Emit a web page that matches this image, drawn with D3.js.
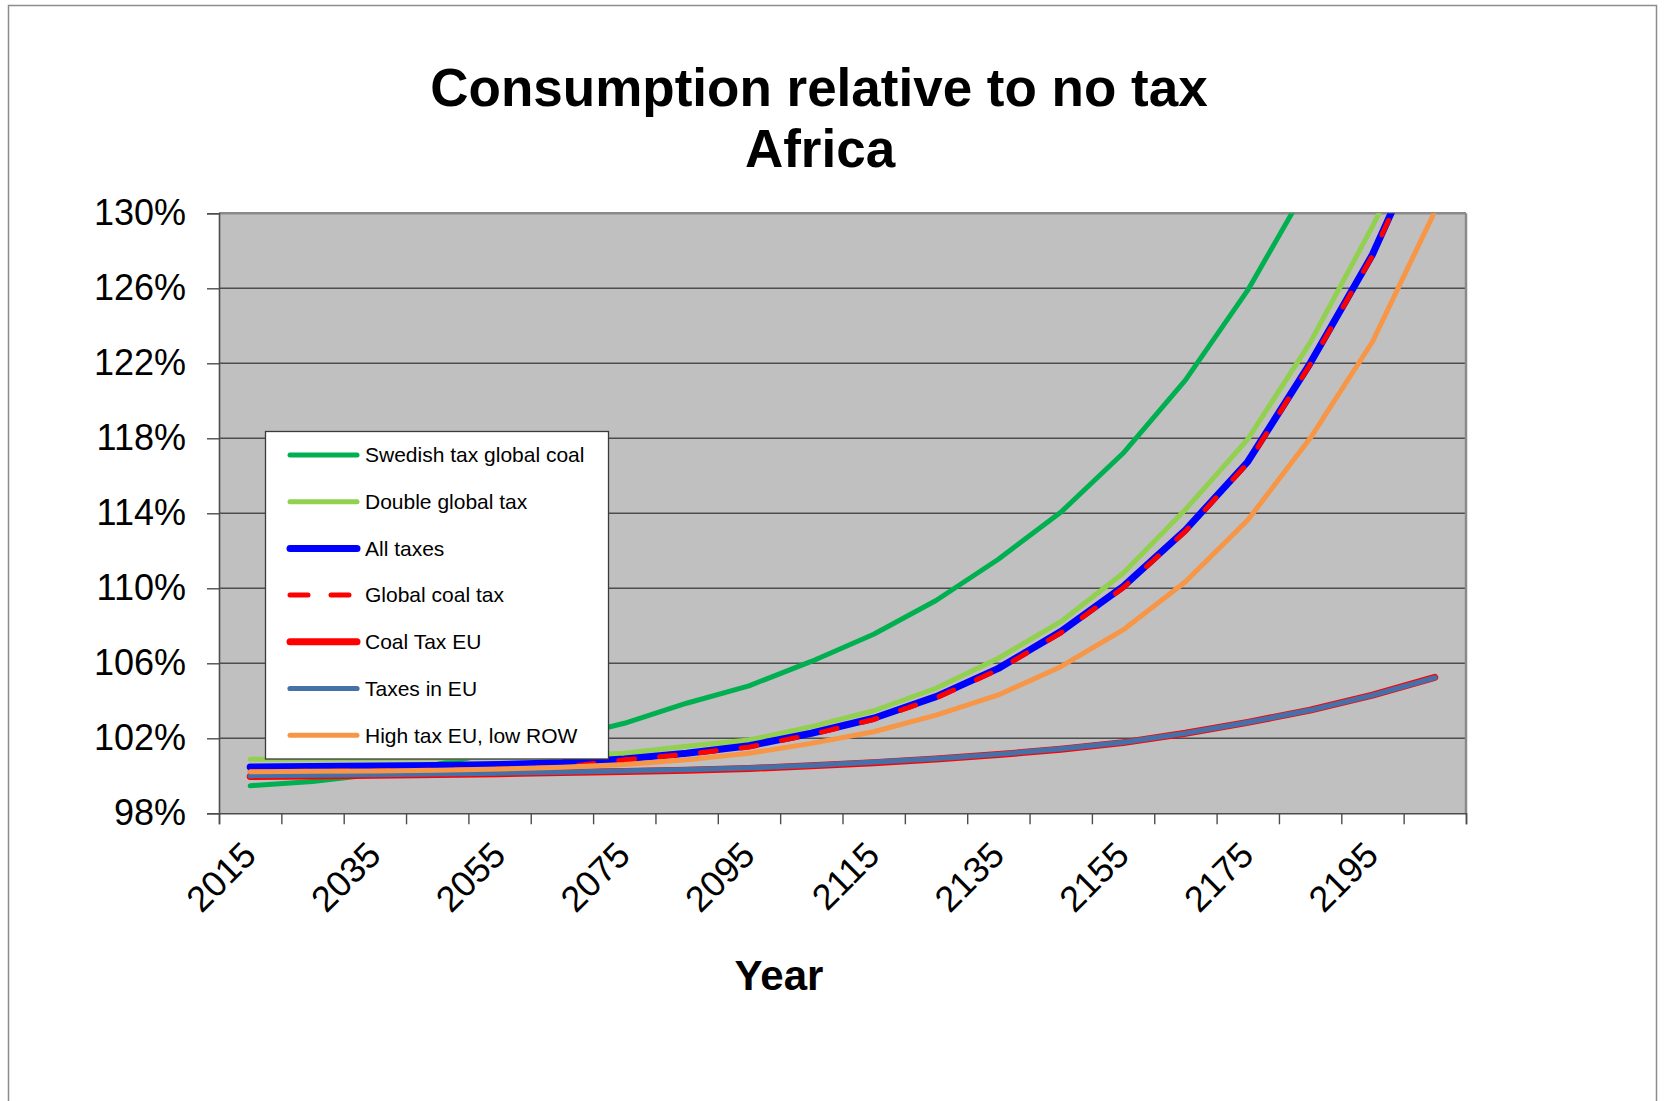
<!DOCTYPE html>
<html>
<head>
<meta charset="utf-8">
<script src="https://cdn.jsdelivr.net/npm/d3@7"></script>
<style>
  body { margin: 0; background: #ffffff; }
  svg text { font-family: "Liberation Sans", Arial, sans-serif; fill: #000; }
</style>
</head>
<body>
<div id="chart"></div>
<script>
// data (percent of no-tax consumption)
var years = [2015, 2025, 2035, 2045, 2055, 2065, 2075, 2085, 2095, 2105,
             2115, 2125, 2135, 2145, 2155, 2165, 2175, 2185, 2195, 2205];
var xLabelYears = [2015, 2035, 2055, 2075, 2095, 2115, 2135, 2155, 2175, 2195];
var yTicks = [98, 102, 106, 110, 114, 118, 122, 126, 130];

var seriesNames = ["Swedish tax global coal", "Double global tax", "All taxes",
                   "Global coal tax", "Coal Tax EU", "Taxes in EU", "High tax EU, low ROW"];

var swedishTax = [99.47, 99.69, 100.08, 100.62, 101.28, 101.98, 102.8, 103.87, 104.8, 106.1,
                  107.55, 109.35, 111.55, 114.05, 117.2, 121.1, 125.9, 131.7, null, null];
var doubleTax  = [100.88, 100.9, 100.92, 100.95, 101.0, 101.06, 101.2, 101.58, 101.91, 102.62,
                  103.47, 104.67, 106.27, 108.22, 110.8, 114.2, 117.95, 123.1, 129.3, 136];
var allTaxes   = [100.47, 100.5, 100.52, 100.55, 100.6, 100.7, 100.9, 101.2, 101.6, 102.27,
                  103.07, 104.22, 105.73, 107.69, 110.09, 113.11, 116.75, 122.0, 127.8, 135.2];
var globalCoal = [100.22, 100.24, 100.26, 100.3, 100.36, 100.45, 100.85, 101.15, 101.53, 102.2,
                  103.0, 104.15, 105.66, 107.62, 110.02, 113.04, 116.68, 121.93, 127.73, 135.1];
var coalTaxEU  = [99.96, 99.99, 100.03, 100.07, 100.11, 100.17, 100.23, 100.3, 100.39, 100.53,
                  100.7, 100.9, 101.13, 101.42, 101.77, 102.27, 102.85, 103.5, 104.3, 105.25];
var taxesEU    = [100.0, 100.03, 100.06, 100.1, 100.14, 100.2, 100.26, 100.33, 100.42, 100.56,
                  100.73, 100.92, 101.15, 101.44, 101.78, 102.27, 102.85, 103.5, 104.3, 105.23];
var highTaxEU  = [100.22, 100.24, 100.26, 100.3, 100.36, 100.45, 100.6, 100.85, 101.2, 101.73,
                  102.35, 103.24, 104.31, 105.82, 107.78, 110.35, 113.64, 118.0, 123.15, 130.1];

var seriesValues = [swedishTax, doubleTax, allTaxes, globalCoal, coalTaxEU, taxesEU, highTaxEU];

// look of each series, same order as the names
var seriesStyle = [
  {color: "#00B050", width: 5},
  {color: "#92D050", width: 5},
  {color: "#0000FF", width: 7},
  {color: "#FF0000", width: 5, dash: "16,25"},
  {color: "#FF0000", width: 7},
  {color: "#4670A8", width: 5.2},
  {color: "#F79646", width: 5}
];

var W = 1665, H = 1101;
var plotLeft = 219, plotRight = 1466, plotTop = 213.3, plotBottom = 813.3;

var svg = d3.select("#chart").append("svg").attr("width", W).attr("height", H);

svg.append("rect").attr("x", 0).attr("y", 0).attr("width", W).attr("height", H).attr("fill", "#ffffff");
// chart frame
svg.append("rect")
  .attr("x", 8.5).attr("y", 5.5).attr("width", 1648).attr("height", 1120)
  .attr("fill", "none").attr("stroke", "#8c8c8c").attr("stroke-width", 1.5);

var x = d3.scaleBand().domain(years).range([plotLeft, plotRight]).padding(0);
var xEdge = d3.scaleLinear().domain([0, years.length]).range([plotLeft, plotRight]);
var y = d3.scaleLinear().domain([98, 130]).range([plotBottom, plotTop]);

function cx(i) { return x(years[i]) + x.bandwidth() / 2; }

// plot area
svg.append("rect")
  .attr("x", plotLeft).attr("y", plotTop)
  .attr("width", plotRight - plotLeft).attr("height", plotBottom - plotTop)
  .attr("fill", "#C0C0C0");

// gridlines
svg.append("g").selectAll("line").data(yTicks.slice(1)).enter().append("line")
  .attr("x1", plotLeft).attr("x2", plotRight)
  .attr("y1", function(d) { return y(d); }).attr("y2", function(d) { return y(d); })
  .attr("stroke", "#4d4d4d").attr("stroke-width", 1.4);

// plot border top / right
svg.append("line").attr("x1", plotLeft).attr("x2", plotRight).attr("y1", plotTop).attr("y2", plotTop)
  .attr("stroke", "#8a8a8a").attr("stroke-width", 2.5);
svg.append("line").attr("x1", plotRight).attr("x2", plotRight).attr("y1", plotTop).attr("y2", plotBottom)
  .attr("stroke", "#8a8a8a").attr("stroke-width", 2.5);

// y axis
var yAxis = svg.append("g").attr("transform", "translate(" + plotLeft + ",0)")
  .call(d3.axisLeft(y).tickValues(yTicks).tickSize(12).tickPadding(21)
    .tickFormat(function(d) { return d + "%"; }));
yAxis.select(".domain").attr("stroke", "#4d4d4d").attr("stroke-width", 1.6);
yAxis.selectAll(".tick line").attr("stroke", "#4d4d4d").attr("stroke-width", 1.4);
yAxis.selectAll(".tick text")
  .attr("font-size", "36px").attr("fill", "#000")
  .style("font-family", "'Liberation Sans', Arial, sans-serif");

// x axis: tick marks on category edges
var xTicks = svg.append("g").attr("transform", "translate(0," + plotBottom + ")")
  .call(d3.axisBottom(xEdge).tickValues(d3.range(years.length + 1)).tickSize(11).tickFormat(""));
xTicks.select(".domain").attr("stroke", "#4d4d4d").attr("stroke-width", 1.6);
xTicks.selectAll(".tick line").attr("stroke", "#4d4d4d").attr("stroke-width", 1.4);

// x labels, rotated
svg.append("g").selectAll("text").data(xLabelYears).enter().append("text")
  .attr("transform", function(d) {
    return "translate(" + (x(d) + x.bandwidth() / 2 + 8) + "," + (plotBottom + 44) + ") rotate(-45)";
  })
  .attr("text-anchor", "end")
  .attr("font-size", "36px")
  .text(function(d) { return d; });

// series lines
svg.append("clipPath").attr("id", "plotclip").append("rect")
  .attr("x", plotLeft).attr("y", plotTop)
  .attr("width", plotRight - plotLeft).attr("height", plotBottom - plotTop);

var line = d3.line()
  .defined(function(d) { return d != null; })
  .x(function(d, i) { return cx(i); })
  .y(function(d) { return y(d); });

var lines = svg.append("g").attr("clip-path", "url(#plotclip)");
seriesValues.forEach(function(vals, k) {
  var st = seriesStyle[k];
  lines.append("path")
    .attr("d", line(vals))
    .attr("fill", "none")
    .attr("stroke", st.color)
    .attr("stroke-width", st.width)
    .attr("stroke-linejoin", "round")
    .attr("stroke-linecap", "round")
    .attr("stroke-dasharray", st.dash ? st.dash : null);
});

// legend
var lg = svg.append("g");
lg.append("rect")
  .attr("x", 265.5).attr("y", 431.5).attr("width", 343).attr("height", 327.5)
  .attr("fill", "#ffffff").attr("stroke", "#3a3a3a").attr("stroke-width", 1.3);

seriesNames.forEach(function(name, k) {
  var st = seriesStyle[k];
  var ly = 455 + k * 46.7;
  lg.append("line")
    .attr("x1", 290).attr("x2", 357).attr("y1", ly).attr("y2", ly)
    .attr("stroke", st.color).attr("stroke-width", st.width)
    .attr("stroke-linecap", "round")
    .attr("stroke-dasharray", st.dash ? "18,23" : null);
  lg.append("text")
    .attr("x", 365).attr("y", ly).attr("dy", "0.35em")
    .attr("font-size", "21px")
    .text(name);
});

// titles
svg.append("text").attr("x", 819).attr("y", 106).attr("text-anchor", "middle")
  .attr("font-size", "53px").attr("font-weight", "bold")
  .text("Consumption relative to no tax");
svg.append("text").attr("x", 820).attr("y", 166.5).attr("text-anchor", "middle")
  .attr("font-size", "53px").attr("font-weight", "bold")
  .text("Africa");
svg.append("text").attr("x", 779).attr("y", 990).attr("text-anchor", "middle")
  .attr("font-size", "42px").attr("font-weight", "bold")
  .text("Year");
</script>
</body>
</html>
